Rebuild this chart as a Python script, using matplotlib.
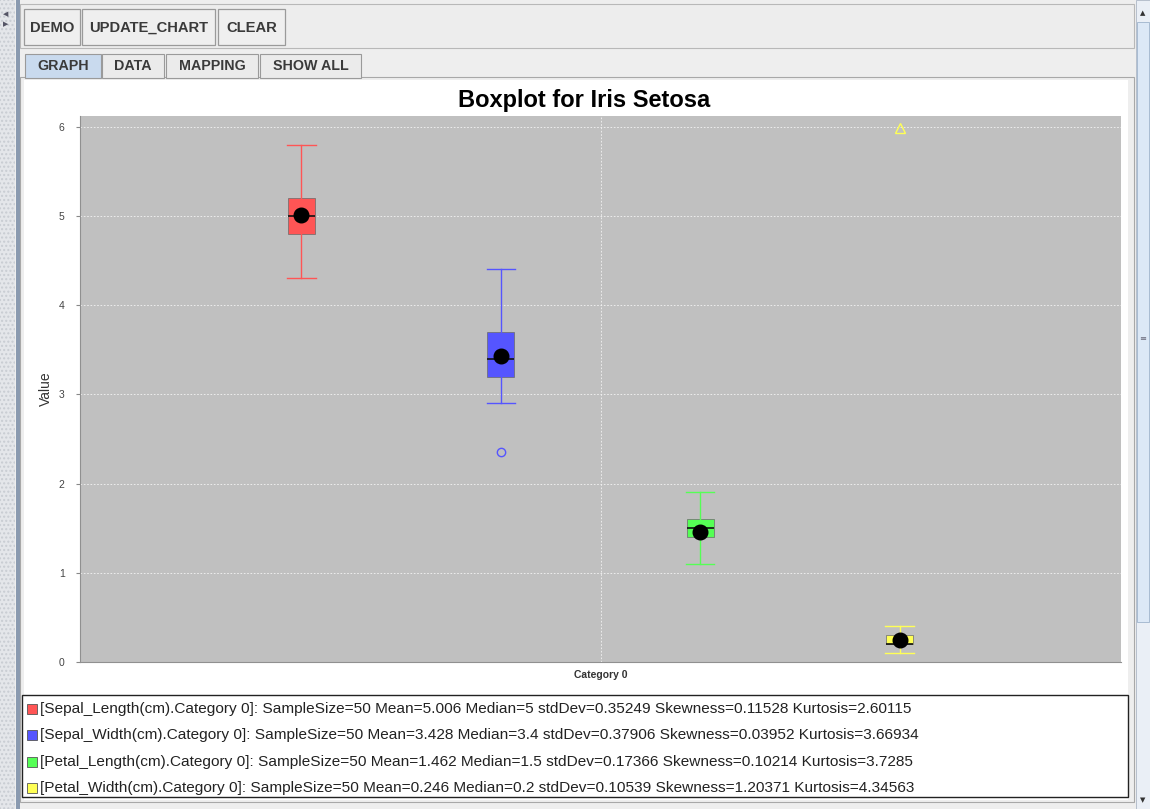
import numpy as np
import matplotlib
matplotlib.use("Agg")
import matplotlib.pyplot as plt
from matplotlib.patches import Rectangle

plt.rcParams['font.family'] = ['Liberation Sans', 'DejaVu Sans']

# ---- data ----
series_names = ["Sepal_Length(cm)", "Sepal_Width(cm)", "Petal_Length(cm)", "Petal_Width(cm)"]
category = "Category 0"
whisker_low = [4.3, 2.9, 1.1, 0.1]
q1 = [4.8, 3.2, 1.4, 0.2]
medians = [5.0, 3.4, 1.5, 0.2]
q3 = [5.2, 3.7, 1.6, 0.3]
whisker_high = [5.8, 4.4, 1.9, 0.4]
means = [5.006, 3.428, 1.462, 0.246]
sample_sizes = [50, 50, 50, 50]
std_devs = ["0.35249", "0.37906", "0.17366", "0.10539"]
skewness = ["0.11528", "0.03952", "0.10214", "1.20371"]
kurtosis = ["2.60115", "3.66934", "3.7285", "4.34563"]
mean_txt = ["5.006", "3.428", "1.462", "0.246"]
median_txt = ["5", "3.4", "1.5", "0.2"]
outliers = [[], [2.35], [], []]
far_outliers_high = [[], [], [], [5.98]]
series_colors = ["#FF5555", "#5555FF", "#55FF55", "#FFFF55"]
y_ticks = [0, 1, 2, 3, 4, 5, 6]

W, H = 1150, 809
fig = plt.figure(figsize=(W / 100, H / 100), dpi=100)
fig.patch.set_facecolor("#EEEEEE")


def rect(x, y, w, h, zorder=-5, **kw):
    """Rectangle given in pixel units, origin at the top-left corner."""
    r = Rectangle((x / W, 1 - (y + h) / H), w / W, h / H,
                  transform=fig.transFigure, zorder=zorder, **kw)
    fig.patches.append(r)
    return r


def ftext(x, y, s, **kw):
    fig.text(x / W, 1 - y / H, s, **kw)


# ---- window chrome ----
rect(0, 0, 15, H, facecolor="#E4E6EA", edgecolor="#C8CCD2", hatch="....", lw=0)
rect(16, 0, 4, H, facecolor="#8A9AB0", edgecolor="none")
ftext(6, 14, "◀", fontsize=5, color="#556", ha="center", va="center", family="DejaVu Sans")
ftext(6, 24, "▶", fontsize=5, color="#556", ha="center", va="center", family="DejaVu Sans")

# toolbar
rect(20, 4, 1114, 44, facecolor="#EDEDED", edgecolor="#B8B8B8", lw=0.8)
for bx, bw, label in [(24, 56, "DEMO"), (82, 133, "UPDATE_CHART"), (218, 67, "CLEAR")]:
    rect(bx, 9, bw, 36, facecolor="#EFEFEF", edgecolor="#9A9A9A", lw=0.9)
    ftext(bx + bw / 2, 28, label, fontsize=10.6, fontweight="bold", color="#3A3A3A",
          ha="center", va="center")

# tabs
rect(20, 77, 1114, 725, facecolor="#EEEEEE", edgecolor="#A8A8A8", lw=0.8)
for tx, tw, label, sel in [(25, 76, "GRAPH", True), (102, 62, "DATA", False),
                           (166, 92, "MAPPING", False), (260, 101, "SHOW ALL", False)]:
    rect(tx, 54, tw, 24, facecolor="#C9DAEE" if sel else "#EBEBEB",
         edgecolor="#9A9A9A", lw=0.8)
    ftext(tx + tw / 2, 66, label, fontsize=10.3, fontweight="bold", color="#3A3A3A",
          ha="center", va="center")

# chart panel
rect(24, 80, 1104, 720, facecolor="white", edgecolor="none")

# scrollbar
rect(1136, 0, 14, H, facecolor="#EAEFF6", edgecolor="#AEB8C6", lw=0.6)
rect(1137, 22, 12, 600, facecolor="#DCE8F6", edgecolor="#9FB3CC", lw=0.6)
ftext(1143, 13, "▲", fontsize=5, color="#333", ha="center", va="center", family="DejaVu Sans")
ftext(1143, 800, "▼", fontsize=5, color="#333", ha="center", va="center", family="DejaVu Sans")
ftext(1143, 338, "≡", fontsize=6, color="#667", ha="center", va="center", family="DejaVu Sans")

# ---- plot ----
ax_l, ax_r, ax_t, ax_b = 80, 1121, 116, 662
ax = fig.add_axes([ax_l / W, 1 - ax_b / H, (ax_r - ax_l) / W, (ax_b - ax_t) / H])
ax.set_zorder(1)
ax.set_facecolor("#C0C0C0")
ax.set_xlim(0, 1)
ax.set_ylim(0, 6.12)

n = len(series_names)
positions = 0.5 + (np.arange(n) - (n - 1) / 2) * 0.1915
box_w = 0.026

stats = []
for i in range(n):
    stats.append(dict(med=medians[i], q1=q1[i], q3=q3[i], whislo=whisker_low[i],
                      whishi=whisker_high[i], mean=means[i], fliers=[]))

bp = ax.bxp(stats, positions=positions, widths=box_w, patch_artist=True,
            showmeans=True, manage_ticks=False, showfliers=False,
            meanprops=dict(marker="o", markerfacecolor="black", markeredgecolor="black",
                           markersize=10.5),
            medianprops=dict(color="#111111", lw=1.2),
            capwidths=box_w * 1.05, zorder=3)
for i in range(n):
    c = series_colors[i]
    bp["boxes"][i].set_facecolor(c)
    bp["boxes"][i].set_edgecolor("#6A6A6A")
    bp["boxes"][i].set_linewidth(0.5)
    for ln in bp["whiskers"][2 * i:2 * i + 2] + bp["caps"][2 * i:2 * i + 2]:
        ln.set_color(c)
        ln.set_linewidth(1.0)
    if outliers[i]:
        ax.plot([positions[i]] * len(outliers[i]), outliers[i], "o", ms=6,
                mfc="none", mec=c, mew=1.0, zorder=4)
    if far_outliers_high[i]:
        ax.plot([positions[i]] * len(far_outliers_high[i]), far_outliers_high[i], "^",
                ms=7, mfc="none", mec=c, mew=1.0, zorder=4)

ax.set_yticks(y_ticks)
ax.set_yticklabels([str(t) for t in y_ticks], fontsize=7.5, color="#444444")
ax.yaxis.grid(True, color="#F4F4F4", linestyle=(0, (2, 2)), lw=0.6)
ax.set_xticks([0.5])
ax.set_xticklabels([category], fontsize=7.5, color="#333333", fontweight="bold")
ax.tick_params(axis="x", length=0, pad=6)
ax.xaxis.grid(True, color="#F4F4F4", linestyle=(0, (2, 2)), lw=0.6)
ax.tick_params(axis="y", length=3, color="#888888", pad=8)
ax.set_axisbelow(True)
for s in ["top", "right"]:
    ax.spines[s].set_visible(False)
ax.spines["left"].set_color("#909090")
ax.spines["bottom"].set_color("#909090")
ax.set_ylabel("Value", fontsize=10, color="#333333", labelpad=4)

ftext(584, 101, "Boxplot for Iris Setosa", fontsize=17, fontweight="bold",
      color="black", ha="center", va="center")

# ---- legend ----
rect(22, 695, 1106, 102, facecolor="white", edgecolor="#222222", lw=1.0)
legend_y = [709, 735, 762, 788]
for i in range(n):
    rect(27, legend_y[i] - 5, 10, 10, facecolor=series_colors[i], edgecolor="#555555", lw=0.6)
    txt = (f"[{series_names[i]}.{category}]: SampleSize={sample_sizes[i]} "
           f"Mean={mean_txt[i]} Median={median_txt[i]} stdDev={std_devs[i]} "
           f"Skewness={skewness[i]} Kurtosis={kurtosis[i]}")
    ftext(40, legend_y[i], txt, fontsize=11.1, color="#222222", ha="left", va="center")

fig.savefig("out.png", dpi=100, facecolor=fig.get_facecolor())
